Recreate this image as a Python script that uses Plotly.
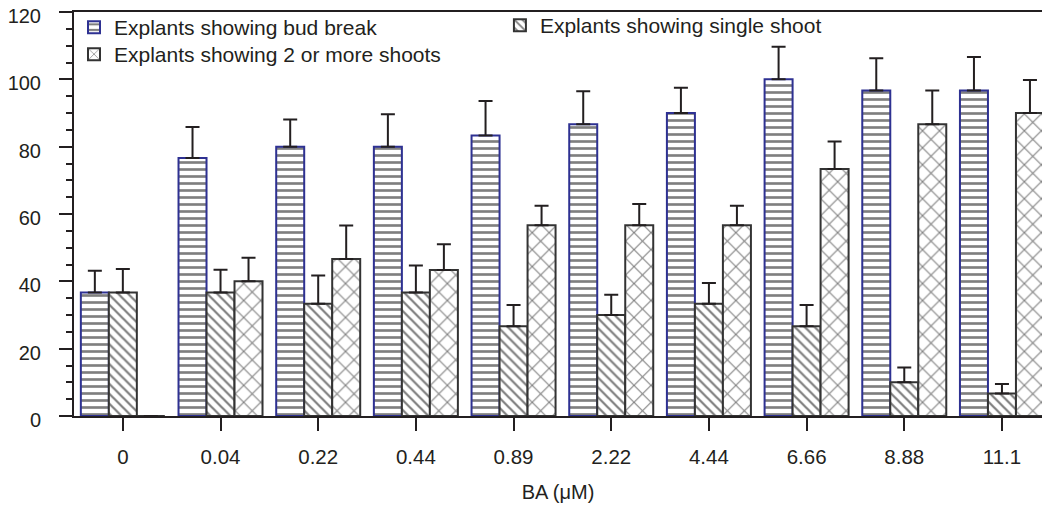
import plotly.graph_objects as go

categories = ["0", "0.04", "0.22", "0.44", "0.89", "2.22", "4.44", "6.66", "8.88", "11.1"]
bud_break = [36.67, 76.67, 80.0, 80.0, 83.33, 86.67, 90.0, 100.0, 96.67, 96.67]
bud_break_err = [6.5, 9.2, 8.1, 9.6, 10.2, 9.8, 7.5, 9.7, 9.6, 10.0]
single_shoot = [36.67, 36.67, 33.33, 36.67, 26.67, 30.0, 33.33, 26.67, 10.0, 6.67]
single_shoot_err = [7.0, 6.8, 8.4, 8.0, 6.3, 6.0, 6.2, 6.3, 4.4, 2.8]
multi_shoot = [0, 40.0, 46.67, 43.33, 56.67, 56.67, 56.67, 73.33, 86.67, 90.0]
multi_shoot_err = [0, 7.0, 9.9, 7.7, 5.8, 6.3, 5.8, 8.2, 10.0, 9.8]

font_family = "Liberation Sans, Arial, sans-serif"
txt = "#231f20"

def err(vals):
    return dict(type="data", array=vals, arrayminus=[0] * len(vals), symmetric=False,
                color=txt, thickness=2, width=7, visible=True)

fig = go.Figure()
fig.add_trace(go.Bar(
    x=categories, y=bud_break, name="Explants showing bud break",
    error_y=err(bud_break_err), legend="legend",
    marker=dict(color="white", line=dict(color="#2e3192", width=2),
                pattern=dict(shape="-", fgcolor="black", bgcolor="white", size=7, solidity=0.38)),
))
fig.add_trace(go.Bar(
    x=categories, y=single_shoot, name="Explants showing single shoot",
    error_y=err(single_shoot_err), legend="legend2",
    marker=dict(color="white", line=dict(color="#333333", width=2),
                pattern=dict(shape="\\", fgcolor="black", bgcolor="white", size=7, solidity=0.32)),
))
fig.add_trace(go.Bar(
    x=categories, y=multi_shoot, name="Explants showing 2 or more shoots",
    error_y=err(multi_shoot_err), legend="legend3",
    marker=dict(color="white", line=dict(color="#333333", width=2),
                pattern=dict(shape="x", fgcolor="black", bgcolor="white", size=12, solidity=0.17)),
))

leg_common = dict(xanchor="left", yanchor="top", bgcolor="rgba(0,0,0,0)",
                  font=dict(size=21, color=txt), itemwidth=30)

fig.update_layout(
    width=1042, height=508,
    margin=dict(l=74, r=0, t=12, b=92, autoexpand=False),
    paper_bgcolor="white", plot_bgcolor="white",
    font=dict(family=font_family, size=20, color=txt),
    barmode="group", bargap=0.14, bargroupgap=0,
    showlegend=True,
    legend=dict(x=0.0, y=1.0124, **leg_common),
    legend3=dict(x=0.0, y=0.9455, **leg_common),
    legend2=dict(x=0.44, y=1.017, **leg_common),
    xaxis=dict(
        type="category", range=[-0.5, 9.41],
        showline=True, linecolor=txt, linewidth=2, mirror=True,
        ticks="outside", ticklen=13, tickwidth=2, tickcolor=txt,
        showgrid=False, zeroline=False, ticklabelstandoff=8,
        tickfont=dict(size=20.5, color=txt),
        title=dict(text="BA (\u03bcM)", font=dict(size=20, color=txt), standoff=18),
    ),
    yaxis=dict(
        range=[0, 120], tickmode="linear", tick0=0, dtick=20,
        showline=True, linecolor=txt, linewidth=2,
        ticks="outside", ticklen=13, tickwidth=2, tickcolor=txt,
        minor=dict(dtick=5, ticks="outside", ticklen=6, tickwidth=2, tickcolor=txt, showgrid=False),
        showgrid=False, zeroline=False, ticklabelstandoff=14, ticklabelshift=4,
        ticklabeloverflow="allow",
        tickfont=dict(size=20, color=txt),
    ),
)

fig.write_html("out.html")
